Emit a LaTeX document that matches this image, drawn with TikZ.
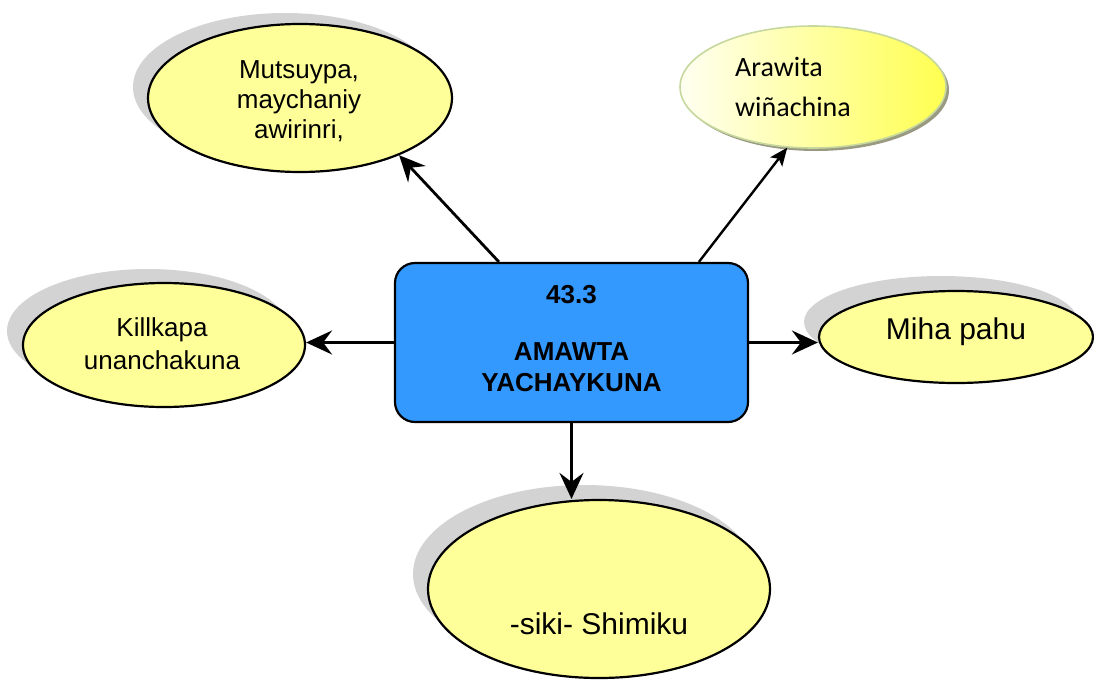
\documentclass[tikz,border=0pt]{standalone}
\usepackage{fontspec}
\setmainfont{Liberation Sans}
\newfontfamily\calib{Carlito}
\usetikzlibrary{shapes.geometric,arrows.meta}
\definecolor{ylw}{HTML}{FFFF99}
\definecolor{shd}{HTML}{D3D3D3}
\definecolor{boxblue}{HTML}{3399FF}
\definecolor{grnedge}{HTML}{C6D89E}
\definecolor{trshd}{HTML}{9A9A82}
\begin{document}
\begin{tikzpicture}[x=1pt,y=-1pt,
  bubble/.style={ellipse, draw=black, line width=2.2pt, fill=ylw, inner sep=0pt},
  shadowfill/.style={fill=shd},
  bubtext/.style={align=center, font=\fontsize{26}{30}\selectfont, inner sep=0pt},
  bigtext/.style={font=\fontsize{30}{34}\selectfont, inner sep=0pt},
  boxtext/.style={font=\fontsize{26}{30}\selectfont\bfseries, inner sep=0pt, anchor=base},
  arr/.style={-{Stealth[length=26pt,width=24pt,inset=9pt]}, line width=2.8pt},
  thinarr/.style={-{Stealth[length=18pt,width=15pt,inset=4pt]}, line width=2.4pt}]
\useasboundingbox (0,0) rectangle (1094,683);
% shadows
\fill[shadowfill] (285,87) ellipse [x radius=152pt, y radius=74pt];
\fill[shadowfill] (148,331) ellipse [x radius=141pt, y radius=62pt];
\fill[shadowfill] (941,322) ellipse [x radius=137pt, y radius=46pt];
\fill[shadowfill] (584,574) ellipse [x radius=171pt, y radius=89pt];
\fill[trshd] (816,90) ellipse [x radius=133pt, y radius=61pt];
% ellipses
\node[bubble, minimum width=304pt, minimum height=148pt] (tl) at (300,98) {};
\node[bubtext] (tltext) at (299,101) {Mutsuypa,\\maychaniy\\awirinri,};
\node[ellipse, draw=grnedge, line width=1.6pt, left color={rgb,255:red,255;green,255;blue,242}, right color={rgb,255:red,255;green,255;blue,80}, inner sep=0pt, minimum width=266pt, minimum height=122pt] (tr) at (813,87) {};
\node[align=left, anchor=north west, inner sep=0pt, font=\calib\fontsize{28}{40}\selectfont] (trtext) at (735,57) {Arawita\\wiñachina};
\node[bubble, minimum width=282pt, minimum height=124pt] (l) at (164,345) {};
\node[bubtext, font=\fontsize{26}{33}\selectfont] (ltext) at (162,344) {Killkapa\\unanchakuna};
\node[bubble, minimum width=274pt, minimum height=92pt] (r) at (956,337) {};
\node[bigtext] (rtext) at (956,332) {Miha pahu};
\node[bubble, minimum width=342pt, minimum height=178pt] (b) at (599,589) {};
\node[bigtext, anchor=base] (btext) at (599,634) {-siki- Shimiku};
% central box
\node[draw=black, line width=2.2pt, fill=boxblue, rounded corners=20pt, minimum width=353pt, minimum height=159pt, inner sep=0pt] (box) at (571.5,342.5) {};
\node[boxtext] (num) at (571.5,303) {43.3};
\node[boxtext] (t1) at (571.5,360) {AMAWTA};
\node[boxtext] (t2) at (571.5,391) {YACHAYKUNA};
% connectors
\draw[arr] ([xshift=105pt]box.north west) -- (tl.-30);
\draw[thinarr] ([xshift=305pt]box.north west) -- (tr.-113);
\draw[arr] (box.west) -- (box.west -| l.east);
\draw[arr] (box.east) -- (box.east -| r.west);
\draw[arr] (box.south) -- (box.south |- b.north);
\end{tikzpicture}
\end{document}
